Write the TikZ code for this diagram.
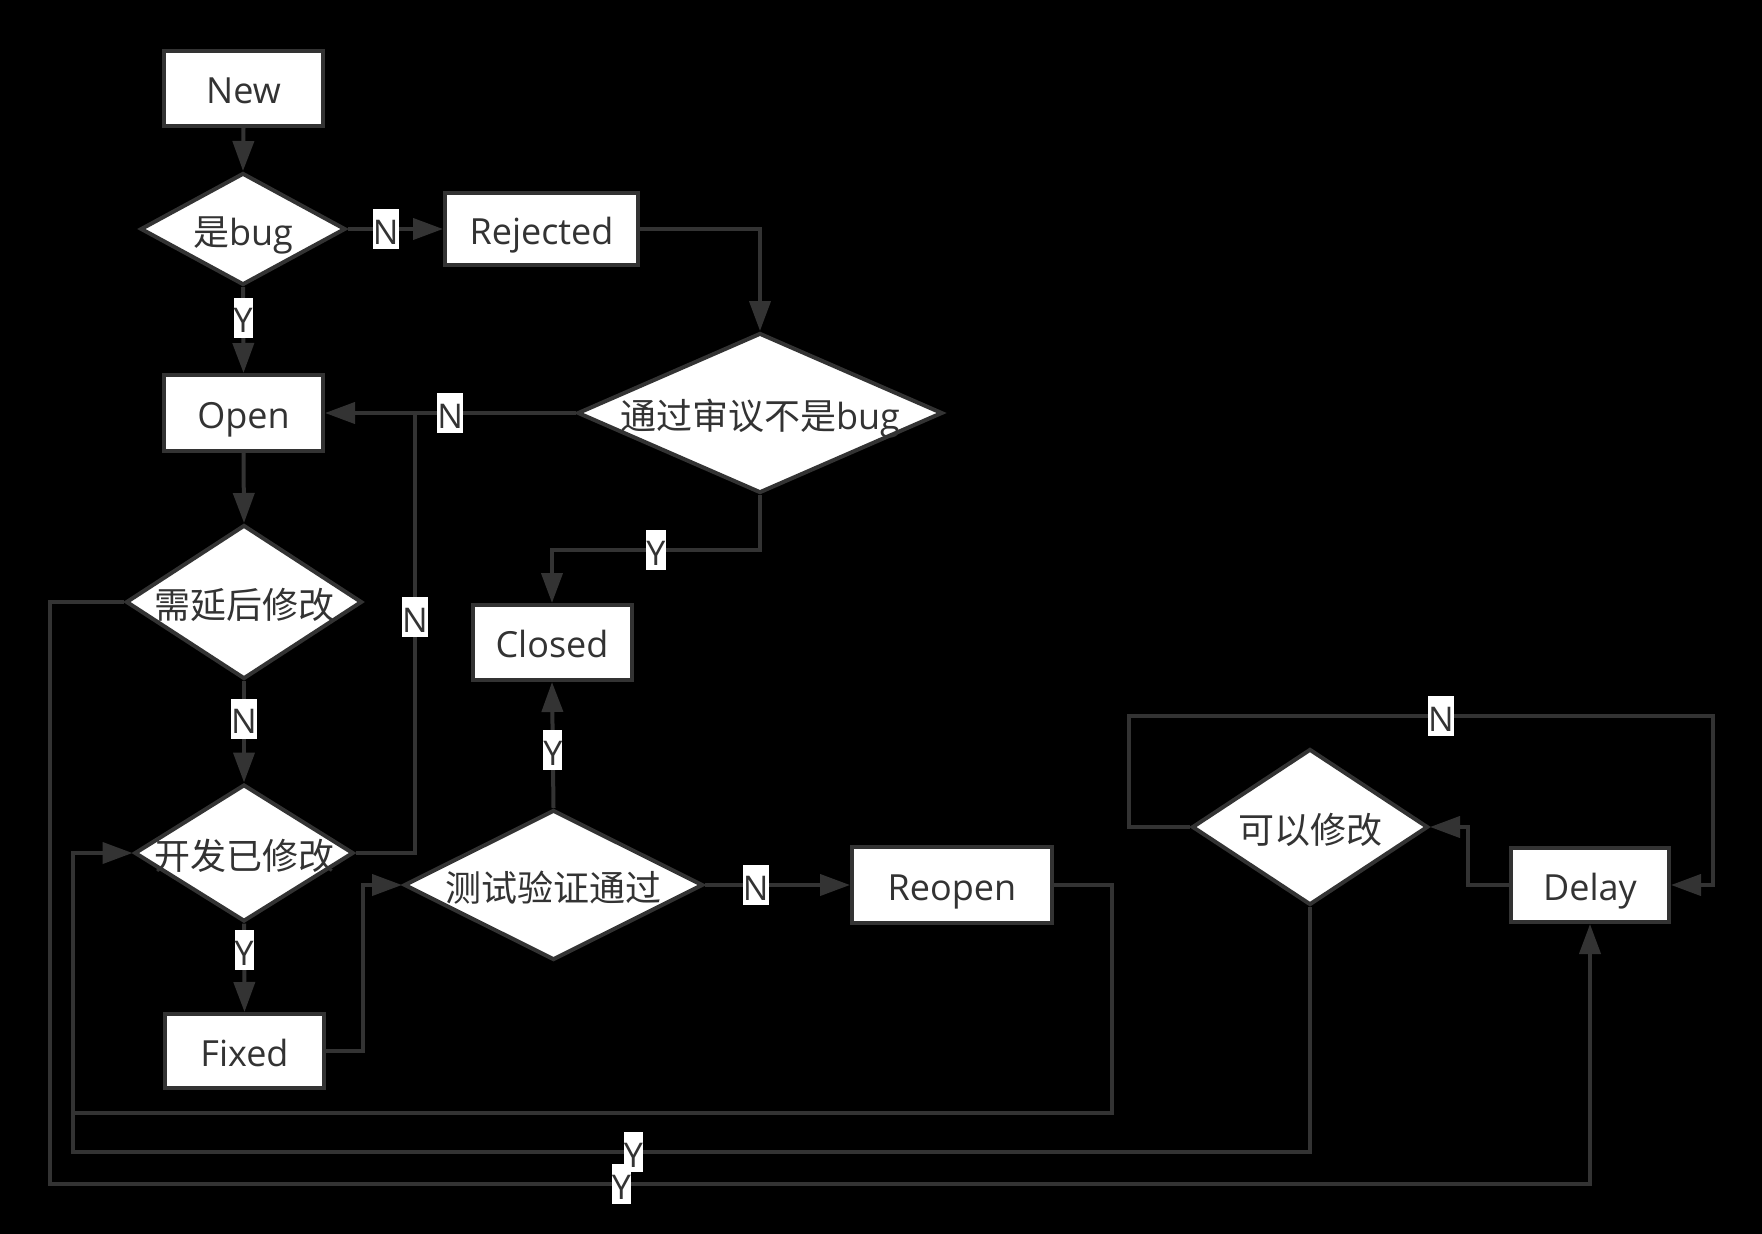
\documentclass[tikz,border=0pt]{standalone}
\usepackage{fontspec}
\setmainfont{Open Sans}
\newfontfamily\cjk{Noto Sans CJK SC}
\usetikzlibrary{shapes.geometric,arrows.meta,calc}
\definecolor{lc}{RGB}{51,51,51}
\newcommand\mydtext[1]{\smash{\makebox[0pt]{\raisebox{-0.45em}{#1}}}}
\begin{document}
\begin{tikzpicture}[x=1pt,y=-1pt,
  every node/.style={font=\fontsize{36}{40}\selectfont, text=lc},
  box/.style={draw=lc, line width=4pt, fill=white, rectangle, inner sep=0pt, text height=31pt, text depth=1pt},
  dia/.style={draw=lc, line width=4pt, fill=white, diamond, inner sep=0pt},
  lbl/.style={fill=white, font=\fontsize{34}{38}\selectfont, inner xsep=0pt, inner ysep=2pt, text height=33pt, text depth=3pt},
  conn/.style={draw=lc, line width=4pt},
  arr/.style={conn, -{Triangle[length=30pt,width=21pt]}}
]
\useasboundingbox (0,0) rectangle (1762,1234);
\fill[black] (0,0) rectangle (1762,1234);

% nodes
\node[box, minimum width=159pt, minimum height=75pt] (new) at (243.5,88.5) {New};
\node[dia, minimum width=205pt, minimum height=112pt] (isbug) at (243,229) {\mydtext{{\cjk 是}bug}};
\node[box, minimum width=193pt, minimum height=72pt] (rejected) at (541.5,229) {Rejected};
\node[dia, minimum width=365pt, minimum height=160pt] (review) at (760,413) {\mydtext{{\cjk 通过审议不是}bug}};
\node[box, minimum width=159pt, minimum height=76pt] (open) at (243.5,413) {Open};
\node[dia, minimum width=236pt, minimum height=154pt] (delaydec) at (244,602) {\mydtext{\cjk 需延后修改}};
\node[box, minimum width=159pt, minimum height=75pt] (closed) at (552,642.5) {Closed};
\node[dia, minimum width=219pt, minimum height=137pt] (devfix) at (244,853) {\mydtext{\cjk 开发已修改}};
\node[dia, minimum width=299pt, minimum height=150pt] (test) at (553.5,885) {\mydtext{\cjk 测试验证通过}};
\node[box, minimum width=200pt, minimum height=76pt] (reopen) at (952,885) {Reopen};
\node[box, minimum width=159pt, minimum height=74pt] (fixed) at (244.5,1051) {Fixed};
\node[dia, minimum width=236pt, minimum height=156pt] (canfix) at (1310,827) {\mydtext{\cjk 可以修改}};
\node[box, minimum width=158pt, minimum height=74pt] (delay) at (1590,885) {Delay};

% bend coordinates
\coordinate (c1) at (552,550);
\coordinate (p1) at (50,1184);
\coordinate (p2) at (1590,1184);
\coordinate (j0) at (415,853);
\coordinate (j1) at (415,413);
\coordinate (k1) at (363,885);
\coordinate (q1) at (1112,1113);
\coordinate (q2) at (73,1113);
\coordinate (r1) at (1310,1152);
\coordinate (q3) at (73,1152);
\coordinate (s1) at (1129,716);
\coordinate (s2) at (1713,716);
\coordinate (t1) at (1468,827);

% connectors
\draw[arr] (new.south) -- (isbug.north);
\draw[arr] (isbug.east) -- node[lbl,pos=0.4] (l1) {N} (rejected.west);
\draw[arr] (isbug.south) -- node[lbl,pos=0.36] (l2) {Y} (open.north);
\draw[arr] (rejected.east) -| (review.north);
\draw[arr] (review.west) -- node[lbl,pos=0.5] (l3) {N} (open.east);
\draw[arr] (review.south) |- node[lbl,pos=0.75] (l4) {Y} (c1) -- (closed.north);
\draw[arr] (open.south) -- (delaydec.north);
\draw[arr] (delaydec.south) -- node[lbl,pos=0.37] (l5) {N} (devfix.north);
\draw[arr] (delaydec.west) -| (p1) -- node[lbl,pos=0.371] (l6) {Y} (p2) -- (delay.south);
\draw[conn] (devfix.east) -- (j0) -- node[lbl,pos=0.536] (l7) {N} (j1);
\draw[arr] (devfix.south) -- node[lbl,pos=0.3] (l8) {Y} (fixed.north);
\draw[arr] (fixed.east) -| (k1) -- (test.west);
\draw[arr] (test.north) -- node[lbl,pos=0.46] (l9) {Y} (closed.south);
\draw[arr] (test.east) -- node[lbl,pos=0.35] (l10) {N} (reopen.west);
\draw[arr] (reopen.east) -| (q1) -- (q2) |- (devfix.west);
\draw[conn] (canfix.south) -- (r1) -- node[lbl,pos=0.547] (l11) {Y} (q3) -- (q2);
\draw[arr] (canfix.west) -| (s1) -- node[lbl,pos=0.534] (l12) {N} (s2) |- (delay.east);
\draw[arr] (delay.west) -| (t1) -- (canfix.east);
\end{tikzpicture}
\end{document}
